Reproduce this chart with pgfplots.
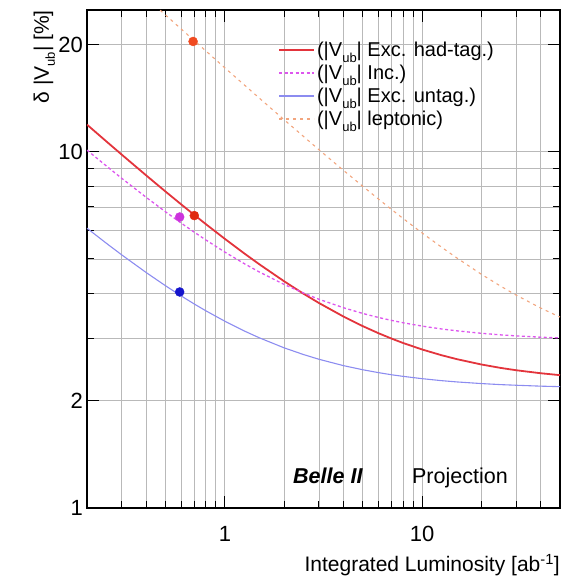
\documentclass[border=0pt]{standalone}
\usepackage{fontspec}
\setmainfont{Liberation Sans}
\usepackage{pgfplots}
\pgfplotsset{compat=1.18}
\definecolor{cred}{HTML}{E3343C}
\definecolor{cmag}{HTML}{DD55EE}
\definecolor{cblue}{HTML}{8C8CF0}
\definecolor{corange}{HTML}{F2A57E}
\definecolor{dred}{HTML}{E02A10}
\definecolor{dlep}{HTML}{F04A20}
\definecolor{dmag}{HTML}{CC33DD}
\definecolor{dblue}{HTML}{1515CC}
\newcommand\sub[1]{\raisebox{-6bp}{\fontsize{13bp}{13bp}\selectfont #1}}
\newcommand\Vub{|V\sub{ub}|}
\begin{document}
\begin{tikzpicture}
\path[use as bounding box] (0,0) rectangle (562bp,581bp);
\begin{axis}[
  at={(87bp,73bp)}, anchor=south west,
  scale only axis, width=473bp, height=498bp,
  xmode=log, ymode=log,
  xmin=0.2, xmax=50, ymin=1, ymax=25,
  xtick={1,10}, xticklabels={1,10},
  minor xtick={0.2,0.3,0.4,0.5,0.6,0.7,0.8,0.9,2,3,4,5,6,7,8,9,20,30,40,50},
  ytick={1,2,10,20}, yticklabels={1,2,10,20},
  minor ytick={3,4,5,6,7,8,9},
  tick pos=both, tick align=inside,
  major tick length=12bp, minor tick length=7bp,
  grid=both,
  major grid style={gray!55, line width=0.8bp},
  minor grid style={gray!55, line width=0.8bp},
  axis line style={line width=1.3bp},
  every tick/.style={black, line width=1bp},
  /pgf/number format/assume math mode=true,
  tick label style={font=\fontsize{22bp}{24bp}\selectfont},
  xticklabel style={anchor=base, yshift=-33bp},
  yticklabel style={inner xsep=4bp},
  xlabel={Integrated Luminosity [ab\textsuperscript{-1}]},
  xlabel style={at={(rel axis cs:1,-0.1285)}, anchor=base east, inner sep=0pt, font=\fontsize{21bp}{24bp}\selectfont},
  ylabel={δ \Vub{} [\%]},
  ylabel style={at={(rel axis cs:-0.09,1)}, anchor=east, inner sep=0pt, font=\fontsize{21bp}{24bp}\selectfont},
  legend style={at={(rel axis cs:0.404,0.94)}, anchor=north west, draw=none, fill=none,
    font=\fontsize{20bp}{22bp}\selectfont, row sep=3bp, inner sep=0pt},
  legend cell align=left,
  legend image code/.code={\draw[#1] (0bp,0bp) -- (35bp,0bp);},
]
\addplot[cred, line width=1.8bp] coordinates {
(0.2,11.917)(0.25,10.706)(0.3,9.816)(0.4,8.574)(0.5,7.734)(0.6,7.120)(0.7,6.646)(0.8,6.267)
(1,5.694)(1.25,5.190)(1.5,4.826)(2,4.327)(2.5,3.997)(3,3.762)(4,3.445)(5,3.240)(6,3.096)
(7,2.989)(8,2.906)(10,2.786)(12.5,2.686)(15,2.617)(20,2.528)(25,2.473)(30,2.436)(40,2.389)(50,2.360)};
\addlegendentry{(\Vub{} Exc. had-tag.)}
\addplot[cmag, line width=1.3bp, dash pattern=on 3bp off 2.5bp] coordinates {
(0.2,10.106)(0.25,9.134)(0.3,8.424)(0.4,7.442)(0.5,6.785)(0.6,6.308)(0.7,5.945)(0.8,5.657)
(1,5.228)(1.25,4.857)(1.5,4.593)(2,4.240)(2.5,4.014)(3,3.855)(4,3.648)(5,3.517)(6,3.427)
(7,3.362)(8,3.312)(10,3.240)(12.5,3.182)(15,3.143)(20,3.093)(25,3.062)(30,3.042)(40,3.016)(50,3.001)};
\addlegendentry{(\Vub{} Inc.)}
\addplot[cblue, line width=1.1bp] coordinates {
(0.2,6.101)(0.25,5.542)(0.3,5.135)(0.4,4.577)(0.5,4.206)(0.6,3.940)(0.7,3.738)(0.8,3.579)
(1,3.344)(1.25,3.143)(1.5,3.002)(2,2.815)(2.5,2.697)(3,2.615)(4,2.509)(5,2.444)(6,2.399)
(7,2.366)(8,2.342)(10,2.307)(12.5,2.278)(15,2.259)(20,2.235)(25,2.220)(30,2.211)(40,2.198)(50,2.191)};
\addlegendentry{(\Vub{} Exc. untag.)}
\addplot[corange, line width=1.1bp, dash pattern=on 3bp off 4bp] coordinates {
(0.47,24.96)(0.5,24.21)(0.6,22.12)(0.7,20.50)(0.8,19.20)
(1,17.20)(1.25,15.43)(1.5,14.12)(2,12.29)(2.5,11.05)(3,10.13)(4,8.860)(5,8.000)(6,7.371)
(7,6.887)(8,6.500)(10,5.916)(12.5,5.404)(15,5.033)(20,4.528)(25,4.195)(30,3.958)(40,3.640)(50,3.435)};
\addlegendentry{(\Vub{} leptonic)}
\addplot[only marks, mark=*, mark size=4.5bp, mark options={draw=dred, fill=dred}, forget plot] coordinates {(0.70,6.62)};
\addplot[only marks, mark=*, mark size=4.5bp, mark options={draw=dlep, fill=dlep}, forget plot] coordinates {(0.69,20.4)};
\addplot[only marks, mark=*, mark size=4.5bp, mark options={draw=dmag, fill=dmag}, forget plot] coordinates {(0.59,6.56)};
\addplot[only marks, mark=*, mark size=4.5bp, mark options={draw=dblue, fill=dblue}, forget plot] coordinates {(0.59,4.04)};
\node[anchor=base west, inner sep=0pt, font=\fontsize{21.5bp}{24bp}\selectfont\bfseries\itshape] at (rel axis cs:0.4355,0.05) {Belle II};
\node[anchor=base west, inner sep=0pt, font=\fontsize{21.5bp}{24bp}\selectfont] at (rel axis cs:0.687,0.05) {Projection};
\end{axis}
\end{tikzpicture}
\end{document}
